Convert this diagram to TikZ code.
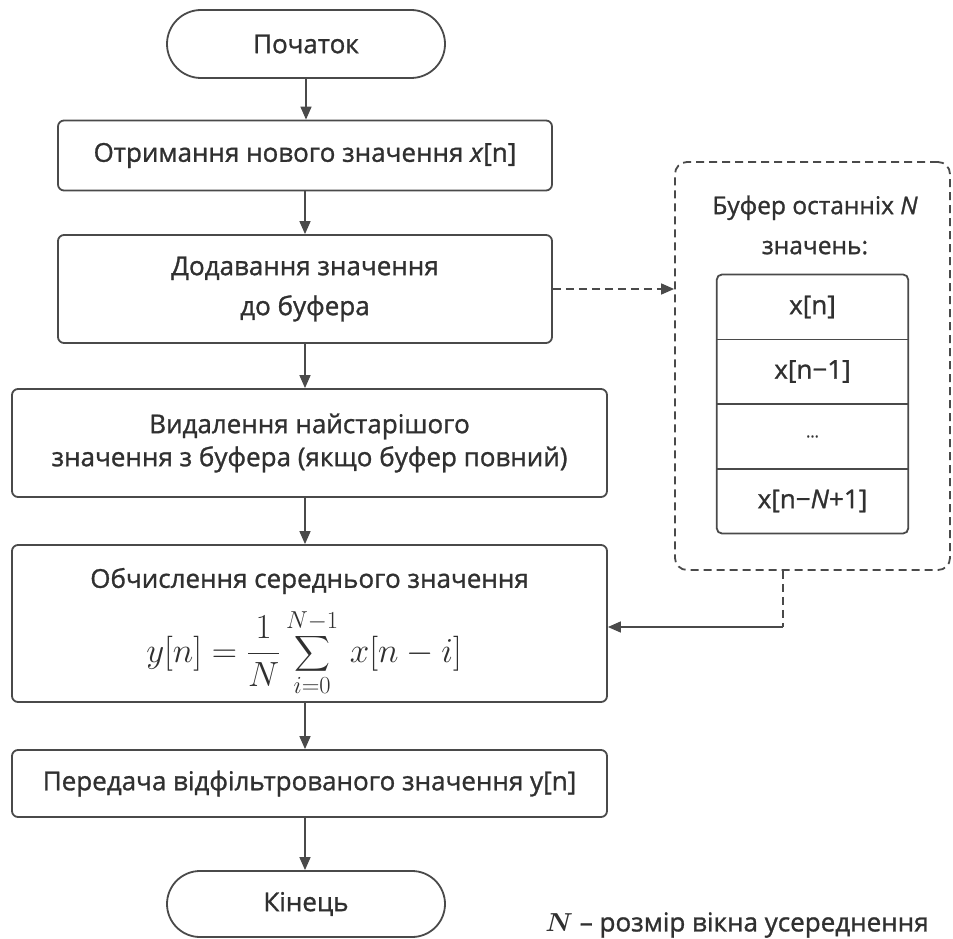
\RequirePackage{fix-cm}
\documentclass[tikz,border=0pt]{standalone}
\usepackage{amsmath}
\usepackage{exscale}
\usepackage{fontspec}
\setmainfont{Open Sans}[FakeBold=1.1]
\usetikzlibrary{arrows.meta,shapes.misc,calc}
\definecolor{ink}{HTML}{303030}
\definecolor{edge}{HTML}{4A4A4A}
\begin{document}
\begin{tikzpicture}[x=1pt,y=-1pt,
  every node/.style={text=ink,font=\fontsize{26}{31}\selectfont},
  box/.style={draw=edge,line width=1.8pt,rounded corners=6pt,align=center,inner sep=0pt},
  term/.style={draw=edge,line width=1.8pt,rounded rectangle,minimum width=278,minimum height=68,inner sep=0pt},
  cell/.style={minimum width=191,minimum height=64.5,inner sep=0pt},
  flow/.style={draw=edge,line width=1.6pt,-{Triangle[length=13pt,width=11pt]}},
  link/.style={draw=edge,line width=1.6pt,dash pattern=on 8pt off 5pt},
]
\useasboundingbox (0,0) rectangle (953,939);

% main flow
\node[term] (start) at (306,44) {Початок};
\node[box,minimum width=494,minimum height=70] (get) at (305,155.5) {Отримання нового значення \textit{x}[n]};
\node[box,minimum width=494,minimum height=108] (add) at (305,289) {Додавання значення\\[9pt]до буфера};
\node[box,minimum width=595,minimum height=108] (drop) at (309.5,443) {Видалення найстарішого\\[2pt]значення з буфера (якщо буфер повний)};
\node[box,minimum width=595,minimum height=157] (avg) at (309.5,623.5) {};
\node[inner sep=0pt] (avgtitle) at (309.5,581) {Обчислення середнього значення};
\node[inner sep=0pt] (formula) at (304,653) {\fontsize{35}{40}\selectfont$\displaystyle y[n]=\frac{1}{N}\sum_{i=0}^{N-1}\,x[n-i]$};
\node[box,minimum width=595,minimum height=67] (send) at (309.5,783.5) {Передача відфільтрованого значення y[n]};
\node[term,minimum height=66] (end) at (306,904) {Кінець};

% buffer of the last N values
\node[draw=edge,line width=1.8pt,dash pattern=on 8pt off 5pt,rounded corners=12pt,minimum width=275,minimum height=408,inner sep=0pt] (buf) at (812.5,366) {};
\node[align=center,font=\fontsize{24.5}{30}\selectfont] (buftitle) at (815,225) {Буфер останніх \textit{N}\\[10pt]значень:};
\node[cell] (c1) at (812.5,307) {x[n]};
\node[cell] (c2) at (812.5,371.5) {x[n−1]};
\node[cell] (c3) at (812.5,436.5) {\fontsize{16}{20}\selectfont...};
\node[cell] (c4) at (812.5,501) {x[n−\textit{N}+1]};
\draw[edge,line width=1.8pt,rounded corners=5pt] (c1.north west) rectangle (c4.south east);
\foreach \c in {c1,c2,c3}
  \draw[edge,line width=1.8pt] (\c.south west) -- (\c.south east);

% connectors
\draw[flow] (start.south) -- (start.south |- get.north);
\draw[flow] (get.south) -- (get.south |- add.north);
\draw[flow] (add.south) -- (add.south |- drop.north);
\draw[flow] (add.south |- drop.south) -- (add.south |- avg.north);
\draw[flow] (add.south |- avg.south) -- (add.south |- send.north);
\draw[flow] (add.south |- send.south) -- (add.south |- end.north);
\draw[flow,dash pattern=on 8pt off 5pt] (add.east) -- (add.east -| buf.west);
\coordinate (bend) at (783,627);
\draw[link] (buf.south -| bend) -- (bend);
\draw[flow] (bend) -- (bend -| avg.east);

\node (note) at (737,925) {$\boldsymbol{N}$ – розмір вікна усереднення};
\end{tikzpicture}
\end{document}
